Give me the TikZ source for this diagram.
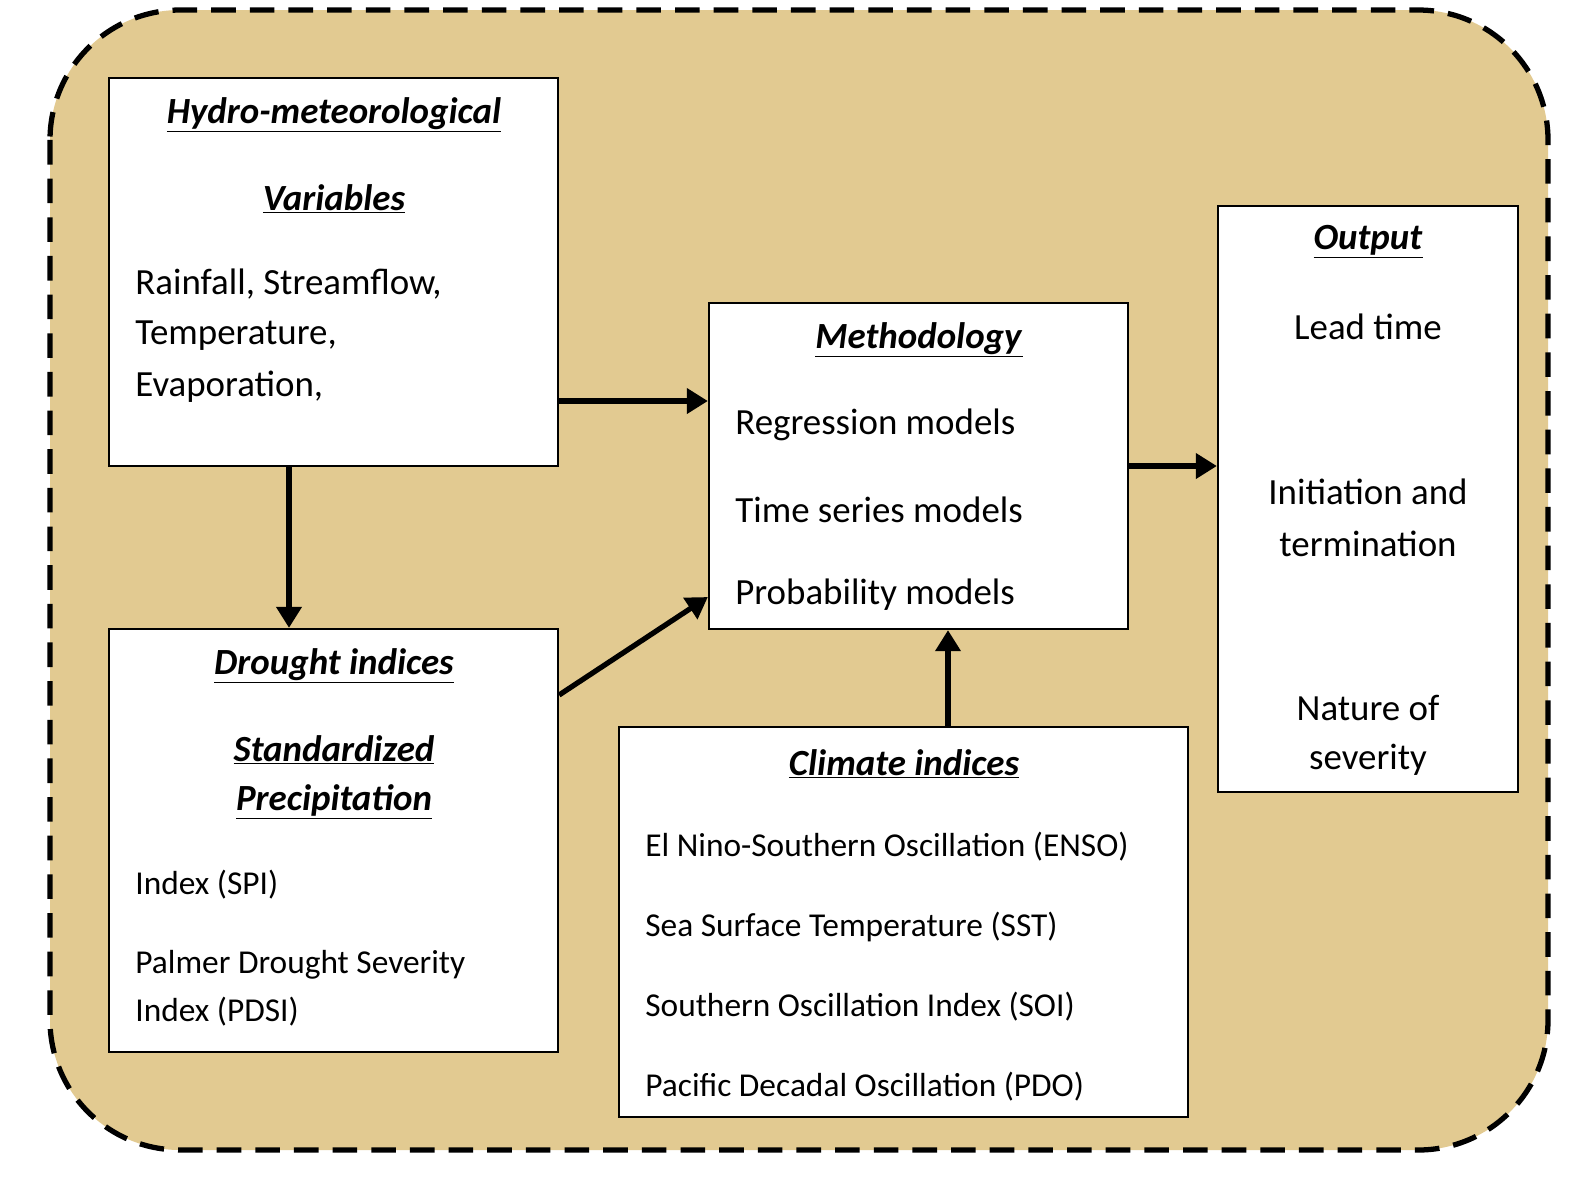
\documentclass[tikz,border=0pt]{standalone}
\usepackage{fontspec}
\setmainfont{Carlito}
\usetikzlibrary{arrows.meta}
\definecolor{paper}{RGB}{226,202,145}
\newcommand{\hd}[1]{\underline{\textbf{\textit{#1}}}}
\tikzset{
  box/.style={draw=black, line width=1.3pt, fill=white},
  txt/.style={font=\fontsize{21}{24}\selectfont, inner sep=0pt},
  sml/.style={font=\fontsize{19}{22}\selectfont, inner sep=0pt, anchor=west},
  arr/.style={line width=3pt, -{Triangle[length=12pt,width=14pt]}}
}
\begin{document}
\begin{tikzpicture}[x=0.02cm,y=-0.02cm]
\useasboundingbox (0,0) rectangle (1586,1178);

%outer frame
\draw[fill=paper, line width=3pt, dash pattern=on 14pt off 8pt, rounded corners=2.6cm] (50,10) rectangle (1548,1150);

%boxes
\node[box, minimum width=8.98cm, minimum height=7.76cm] (hydro) at (333.5,272) {};
\node[box, minimum width=8.98cm, minimum height=8.46cm] (drought) at (333.5,840.5) {};
\node[box, minimum width=8.38cm, minimum height=6.52cm] (meth) at (918.5,466) {};
\node[box, minimum width=11.38cm, minimum height=7.8cm] (clim) at (903.5,922) {};
\node[box, minimum width=6cm, minimum height=11.72cm] (out) at (1368,499) {};

%hydro texts
\node[txt] (h1) at (334,115) {\hd{Hydro-meteorological}};
\node[txt] (h2) at (334,199) {\hd{Variables}};
\node[txt, anchor=west] (h3) at (135,284) {Rainfall, Streamflow,};
\node[txt, anchor=west] (h4) at (135,336) {Temperature,};
\node[txt, anchor=west] (h5) at (135,387) {Evaporation,};

%drought texts
\node[txt] (d1) at (334,666) {\hd{Drought indices}};
\node[txt] (d2) at (334,750) {\hd{Standardized}};
\node[txt] (d3) at (334,802) {\hd{Precipitation}};
\node[sml] (d4) at (135,885) {Index (SPI)};
\node[sml] (d5) at (135,965) {Palmer Drought Severity};
\node[sml] (d6) at (135,1012) {Index (PDSI)};

%methodology texts
\node[txt] (m1) at (919,340) {\hd{Methodology}};
\node[txt, anchor=west] (m2) at (735,425) {Regression models};
\node[txt, anchor=west] (m3) at (735,510) {Time series models};
\node[txt, anchor=west] (m4) at (735,595) {Probability models};

%climate texts
\node[txt] (c1) at (904,764) {\hd{Climate indices}};
\node[sml] (c2) at (645,847) {El Nino-Southern Oscillation (ENSO)};
\node[sml] (c3) at (645,927) {Sea Surface Temperature (SST)};
\node[sml] (c4) at (645,1007) {Southern Oscillation Index (SOI)};
\node[sml] (c5) at (645,1087) {Pacific Decadal Oscillation (PDO)};

%output texts
\node[txt] (o1) at (1368,242) {\hd{Output}};
\node[txt] (o2) at (1368,327) {Lead time};
\node[txt] (o3) at (1368,492) {Initiation and};
\node[txt] (o4) at (1368,544) {termination};
\node[txt] (o5) at (1368,708) {Nature of};
\node[txt] (o6) at (1368,760) {severity};

%arrows
\draw[arr] (hydro.east |- 0,401) -- (meth.west |- 0,401);
\draw[arr] (hydro.south -| 289,0) -- (drought.north -| 289,0);
\draw[arr] (drought.east |- 0,695) -- (meth.west |- 0,597);
\draw[arr] (clim.north -| 948,0) -- (meth.south -| 948,0);
\draw[arr] (meth.east) -- (out.west |- meth.east);
\end{tikzpicture}
\end{document}
